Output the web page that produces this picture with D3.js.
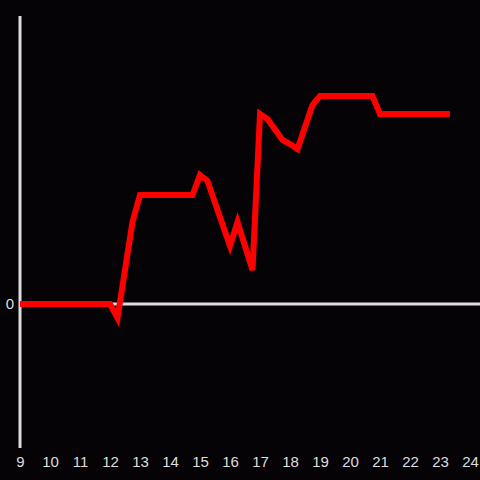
<!DOCTYPE html>
<html>
<head>
<meta charset="utf-8">
<script src="https://cdn.jsdelivr.net/npm/d3@7"></script>
<style>
  html, body { margin: 0; padding: 0; background: #050306; }
  .axis text { fill: #dddddd; font-family: "Liberation Sans", Arial, sans-serif; font-size: 15px; }
</style>
</head>
<body>
<script>
// hours of the day and the value at each hour
var hours  = [9, 12, 12.25, 12.75, 13, 14.75, 15, 15.25, 16, 16.25, 16.75, 17, 17.25, 17.75, 18, 18.25, 18.75, 19, 20.75, 21, 23.33];
var values = [0, 0, -14, 82, 109, 109, 129, 123, 58, 82, 34, 190, 185, 164, 160, 155, 199, 208, 208, 190, 190];

var xTicks = d3.range(9, 25);
var yTicks = [0];

var width = 480, height = 480;

var svg = d3.select("body")
  .append("svg")
  .attr("width", width)
  .attr("height", height)
  .style("display", "block");

svg.append("rect")
  .attr("width", width)
  .attr("height", height)
  .attr("fill", "#050306");

// Set the ranges
var x = d3.scaleLinear().domain([9, 24]).range([20, 470]);
var y = d3.scaleLinear().domain([-144, 288]).range([448, 16]);

// axis lines
svg.append("line")
  .attr("x1", x(9)).attr("x2", x(9))
  .attr("y1", y(288)).attr("y2", y(-144))
  .attr("stroke", "#dddddd")
  .attr("stroke-width", 3);

svg.append("line")
  .attr("x1", x(9)).attr("x2", width)
  .attr("y1", y(0)).attr("y2", y(0))
  .attr("stroke", "#dddddd")
  .attr("stroke-width", 3);

// the line
var line = d3.line()
  .x(function (d, i) { return x(hours[i]); })
  .y(function (d) { return y(d); });

svg.append("path")
  .attr("d", line(values))
  .attr("fill", "none")
  .attr("stroke", "#ff0000")
  .attr("stroke-width", 6)
  .attr("stroke-linejoin", "miter");

// X axis labels
svg.append("g")
  .attr("class", "axis")
  .attr("transform", "translate(0,453)")
  .call(d3.axisBottom(x).tickValues(xTicks).tickSize(0).tickFormat(d3.format("d")))
  .call(function (g) { g.select(".domain").remove(); });

// Y axis label
svg.append("g")
  .attr("class", "axis")
  .attr("transform", "translate(17,0)")
  .call(d3.axisLeft(y).tickValues(yTicks).tickSize(0))
  .call(function (g) { g.select(".domain").remove(); });
</script>
</body>
</html>
